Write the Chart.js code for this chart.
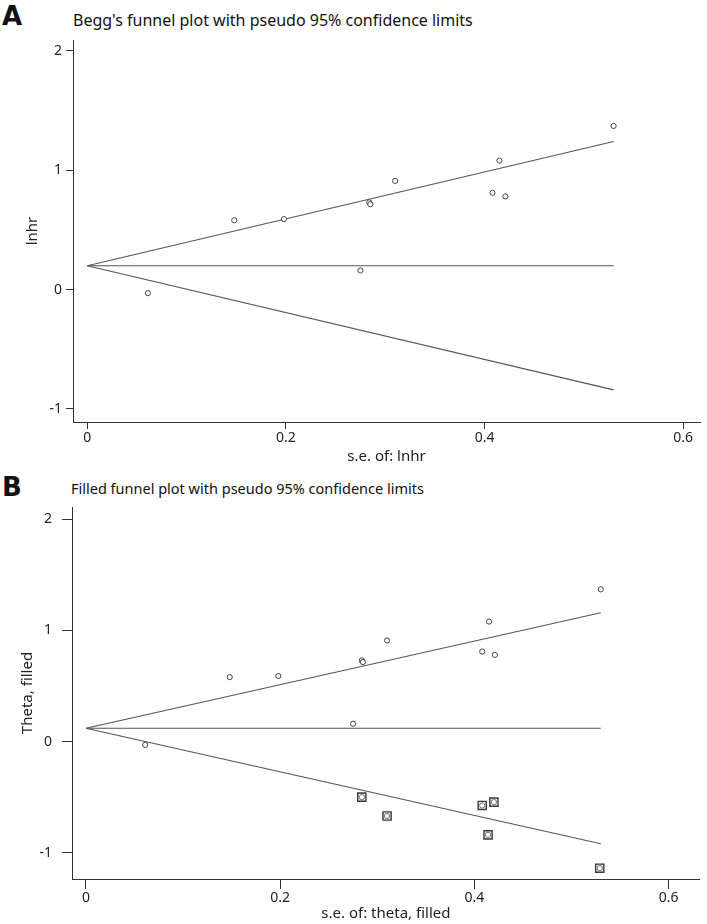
<!DOCTYPE html>
<html>
<head>
<meta charset="utf-8">
<script src="https://cdn.jsdelivr.net/npm/chart.js@4.4.1/dist/chart.umd.min.js"></script>
<style>
  html, body { margin: 0; padding: 0; background: #fff; }
  #wrap { position: relative; width: 707px; height: 924px; overflow: hidden; }
  .letter { position: absolute; left: 2px; font-family: "DejaVu Sans", sans-serif; font-weight: bold; font-size: 26px; line-height: 26px; color: #111; }
  .ttl { position: absolute; font-family: "Noto Sans", sans-serif; color: #111; white-space: nowrap; line-height: 1; }
  canvas { position: absolute; left: 0; }
</style>
</head>
<body>
<div id="wrap">
  <div class="letter" style="top:3px;">A</div>
  <div class="ttl" style="left:73px; top:12px; font-size:16px;">Begg's funnel plot with pseudo 95% confidence limits</div>
  <div class="letter" style="top:474px;">B</div>
  <div class="ttl" style="left:71px; top:481px; font-size:14.5px;">Filled funnel plot with pseudo 95% confidence limits</div>
  <div style="position:absolute; left:0; top:0; width:707px; height:466px;"><canvas id="cA"></canvas></div>
  <div style="position:absolute; left:0; top:466px; width:707px; height:458px;"><canvas id="cB"></canvas></div>
</div>
<script>
// ---- data ----
// study standard errors and log hazard ratios (same studies in both panels)
const studySE   = [0.061, 0.148, 0.198, 0.275, 0.284, 0.285, 0.310, 0.408, 0.415, 0.421, 0.530];
const studyLnHR = [-0.03, 0.58, 0.59, 0.16, 0.73, 0.715, 0.91, 0.81, 1.08, 0.78, 1.37];

// imputed (filled) studies in panel B
const filledSE    = [0.284, 0.310, 0.408, 0.414, 0.420, 0.529];
const filledTheta = [-0.50, -0.67, -0.575, -0.84, -0.545, -1.14];

// pseudo 95% confidence limit lines: end points at se = 0 and se = max
const limitSE = [0, 0.530];
const upperA  = [0.20, 1.24];
const pooledA = [0.20, 0.20];
const lowerA  = [0.20, -0.84];
const upperB  = [0.12, 1.16];
const pooledB = [0.12, 0.12];
const lowerB  = [0.12, -0.92];

// tick values and labels
const xTicks = [0, 0.2, 0.4, 0.6];
const xTickLabels = ['0', '0.2', '0.4', '0.6'];
const yTicks = [-1, 0, 1, 2];
const yTickLabels = ['-1', '0', '1', '2'];

// ---- helpers ----
const pts = (xs, ys) => xs.map((x, i) => ({ x: x, y: ys[i] }));
const FONT = '"Noto Sans", sans-serif';
const AX = '#333';

function lineDs(ys) {
  return { type: 'scatter', data: pts(limitSE, ys), showLine: true, borderColor: '#555', borderWidth: 1.1,
           pointRadius: 0, fill: false, tension: 0 };
}
function circleDs(xs, ys, col) {
  return { type: 'scatter', data: pts(xs, ys), pointStyle: 'circle', pointRadius: 2.6, borderWidth: 1,
           borderColor: col || '#444', backgroundColor: '#fff', showLine: false };
}

function makeChart(id, cfg) {
  const xScale = {
    type: 'linear', min: cfg.xmin, max: cfg.xmax,
    afterBuildTicks: s => { s.ticks = xTicks.map(v => ({ value: v })); },
    afterFit: s => { s.height = cfg.xh; },
    grid: { display: true, drawOnChartArea: false, drawTicks: true, tickLength: cfg.xtl, color: AX, lineWidth: 1 },
    border: { display: true, color: AX, width: 1 },
    ticks: { autoSkip: false, maxRotation: 0, padding: cfg.xpad, color: '#222', font: { family: FONT, size: 14 },
             callback: (v, i) => xTickLabels[i] },
    title: { display: true, text: cfg.xtitle, color: '#222', font: { family: FONT, size: 15 },
             padding: { top: 0, bottom: cfg.xtpad } }
  };
  const yScale = {
    type: 'linear', min: cfg.ymin, max: cfg.ymax,
    afterBuildTicks: s => { s.ticks = yTicks.map(v => ({ value: v })); },
    afterFit: s => { s.width = cfg.yw; },
    grid: { display: true, drawOnChartArea: false, drawTicks: true, tickLength: cfg.ytl, color: AX, lineWidth: 1 },
    border: { display: true, color: AX, width: 1 },
    ticks: { autoSkip: false, padding: cfg.ypad, color: '#222', font: { family: FONT, size: 14 },
             callback: (v, i) => yTickLabels[i] },
    title: { display: true, text: cfg.ytitle, color: '#222', font: { family: FONT, size: 15 },
             padding: { top: cfg.ytpad, bottom: 0 } }
  };
  return new Chart(document.getElementById(id), {
    type: 'scatter',
    data: { datasets: cfg.datasets },
    options: {
      responsive: true, maintainAspectRatio: false, animation: false,
      layout: { padding: { top: cfg.top, right: 7, left: 0, bottom: 0 } },
      plugins: { legend: { display: false }, tooltip: { enabled: false }, title: { display: false } },
      scales: { x: xScale, y: yScale }
    }
  });
}

makeChart('cA', {
  xmin: -0.0144, xmax: 0.617, ymin: -1.109, ymax: 2.09,
  top: 40, xh: 44, yw: 73, xtl: 7, ytl: 7, xpad: 1, ypad: 4, xtpad: 0, ytpad: 24,
  xtitle: 's.e. of: lnhr', ytitle: 'lnhr',
  datasets: [
    circleDs(studySE, studyLnHR),
    lineDs(upperA), lineDs(pooledA), lineDs(lowerA)
  ]
});

makeChart('cB', {
  xmin: -0.0144, xmax: 0.632, ymin: -1.237, ymax: 2.111,
  top: 41, xh: 45, yw: 72, xtl: 10, ytl: 10, xpad: 1, ypad: 10, xtpad: 1, ytpad: 19,
  xtitle: 's.e. of: theta, filled', ytitle: 'Theta, filled',
  datasets: [
    circleDs(filledSE, filledTheta, '#777'),
    circleDs(studySE, studyLnHR),
    { type: 'scatter', data: pts(filledSE, filledTheta), pointStyle: 'rect', pointRadius: 5.8, borderWidth: 1.4,
      borderColor: '#3a3a3a', backgroundColor: '#e6e6e6', showLine: false },
    lineDs(upperB), lineDs(pooledB), lineDs(lowerB)
  ]
});
</script>
</body>
</html>
